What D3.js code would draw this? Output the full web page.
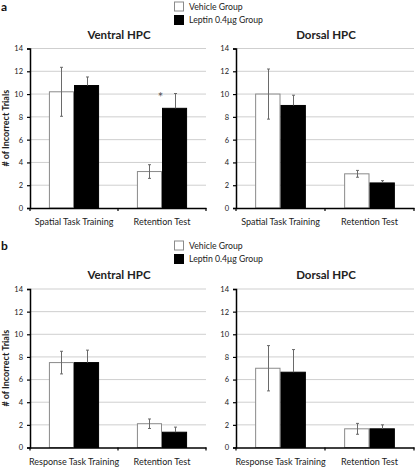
<!DOCTYPE html>
<html><head><meta charset="utf-8">
<script src="https://cdn.jsdelivr.net/npm/d3@7"></script>
<style>body{margin:0;background:#fff}svg{display:block}text{font-family:Lato,"Open Sans",sans-serif}</style>
</head><body><svg id="c" width="416" height="468"></svg>
<script>
const series = ["Vehicle Group", "Leptin 0.4\u03bcg Group"];
const yTicks = [0, 2, 4, 6, 8, 10, 12, 14];
const catsA = ["Spatial Task Training", "Retention Test"];
const catsB = ["Response Task Training", "Retention Test"];
// panel a
const aVentralMean = [[10.2, 10.75], [3.2, 8.75]];
const aVentralErr  = [[2.15, 0.75], [0.6, 1.3]];
const aDorsalMean  = [[10.0, 9.0], [3.0, 2.2]];
const aDorsalErr   = [[2.2, 0.9], [0.3, 0.2]];
// panel b
const bVentralMean = [[7.5, 7.5], [2.1, 1.35]];
const bVentralErr  = [[1.0, 1.1], [0.42, 0.45]];
const bDorsalMean  = [[7.0, 6.65], [1.65, 1.65]];
const bDorsalErr   = [[2.0, 2.0], [0.48, 0.35]];
const panelLetters = ["a", "b"];
const titles = ["Ventral HPC", "Dorsal HPC"];
const yTitle = "# of Incorrect Trials";
const starMark = {panel: 0, chart: 0, cat: 1, series: 1, text: "*"};

const svg = d3.select("#c");
const fills = ["#fff", "#000"];

function chart(opts) {
  const {x0, x1, y0, y1, cats, mean, err, title, showYTitle, star} = opts;
  const g = svg.append("g");
  const y = d3.scaleLinear().domain([0, 14]).range([y0, y1]);
  const x = d3.scaleBand().domain(cats).range([x0, x1]).paddingInner(0.43).paddingOuter(0.215);
  const xs = d3.scaleBand().domain([0, 1]).range([0, x.bandwidth()]);
  // grid
  g.selectAll("line.grid").data(yTicks.filter(d => d > 0)).join("line")
    .attr("x1", x0).attr("x2", x1).attr("y1", d => y(d)).attr("y2", d => y(d))
    .attr("stroke", "#cfcfcf").attr("stroke-width", 1);
  // bars
  cats.forEach((c, ci) => {
    [0, 1].forEach(si => {
      const bx = x(c) + xs(si);
      g.append("rect").attr("x", bx + 0.5).attr("y", y(mean[ci][si]))
        .attr("width", xs.bandwidth() - 1).attr("height", y(0) - y(mean[ci][si]))
        .attr("fill", fills[si]).attr("stroke", si ? "#000" : "#8a8a8a").attr("stroke-width", 1);
      const cx = Math.round(bx + xs.bandwidth() / 2) + 0.5;
      const top = y(mean[ci][si] + err[ci][si]);
      const bot = si ? y(mean[ci][si]) : y(mean[ci][si] - err[ci][si]);
      const col = "#6a6a6a";
      g.append("line").attr("x1", cx).attr("x2", cx).attr("y1", top).attr("y2", bot).attr("stroke", col).attr("stroke-width", 1);
      g.append("line").attr("x1", cx - 1.5).attr("x2", cx + 1.5).attr("y1", top).attr("y2", top).attr("stroke", col).attr("stroke-width", 1);
      if (!si) g.append("line").attr("x1", cx - 1.5).attr("x2", cx + 1.5).attr("y1", bot).attr("y2", bot).attr("stroke", col).attr("stroke-width", 1);
      if (star && star.cat === ci && star.series === si) {
        g.append("text").attr("x", bx - 1.5).attr("y", top + 8).attr("text-anchor", "middle")
          .attr("font-size", 13).attr("fill", "#555").text(star.text);
      }
    });
  });
  // y axis
  const ya = g.append("g").attr("transform", `translate(${x0},0)`)
    .call(d3.axisLeft(y).tickValues(yTicks).tickSize(3).tickPadding(4));
  ya.select(".domain").attr("stroke", "#000").attr("stroke-width", 1.5);
  ya.selectAll(".tick line").attr("stroke", "#000").attr("stroke-width", 1.2);
  ya.selectAll("text").attr("font-size", 7.5).attr("fill", "#222").attr("font-family", "Lato, sans-serif");
  // x axis
  const xa = g.append("g").attr("transform", `translate(0,${y0})`)
    .call(d3.axisBottom(x).tickSize(0).tickPadding(11));
  xa.select(".domain").attr("stroke", "#000").attr("stroke-width", 1.5);
  xa.selectAll("text").attr("font-size", 9).attr("fill", "#222").attr("font-family", "Lato, sans-serif");
  [x0, (x0 + x1) / 2, x1].forEach(tx => {
    g.append("line").attr("x1", tx).attr("x2", tx).attr("y1", y0).attr("y2", y0 + 3)
      .attr("stroke", "#000").attr("stroke-width", 1.2);
  });
  // title
  g.append("text").attr("x", (x0 + x1) / 2 + 1).attr("y", y1 - 10).attr("text-anchor", "middle")
    .attr("font-size", 11.5).attr("font-weight", "bold").attr("fill", "#222").text(title);
  if (showYTitle) {
    g.append("text").attr("transform", `translate(9,${(y0 + y1) / 2}) rotate(-90)`)
      .attr("text-anchor", "middle").attr("font-size", 9).attr("font-weight", "bold").attr("fill", "#222").text(yTitle);
  }
}

function panel(pi, top, y0, y1, cats, ventral, dorsal) {
  svg.append("text").attr("x", 1).attr("y", top + 5).attr("font-size", 12).attr("font-weight", "bold").attr("fill", "#111").text(panelLetters[pi]);
  series.forEach((s, i) => {
    svg.append("rect").attr("x", 174.5).attr("y", top - 4 + i * 13.5).attr("width", 9).attr("height", 9)
      .attr("fill", fills[i]).attr("stroke", i ? "#000" : "#8a8a8a");
    svg.append("text").attr("x", 189).attr("y", top + 3.5 + i * 13.5).attr("font-size", 8.7).attr("fill", "#222").text(s);
  });
  chart({x0: 30, x1: 206, y0, y1, cats, mean: ventral[0], err: ventral[1], title: titles[0], showYTitle: true,
         star: starMark.panel === pi && starMark.chart === 0 ? starMark : null});
  chart({x0: 236, x1: 414, y0, y1, cats, mean: dorsal[0], err: dorsal[1], title: titles[1], showYTitle: false,
         star: starMark.panel === pi && starMark.chart === 1 ? starMark : null});
}

panel(0, 6, 208, 48.5, catsA, [aVentralMean, aVentralErr], [aDorsalMean, aDorsalErr]);
panel(1, 245, 447.5, 289, catsB, [bVentralMean, bVentralErr], [bDorsalMean, bDorsalErr]);
</script></body></html>
